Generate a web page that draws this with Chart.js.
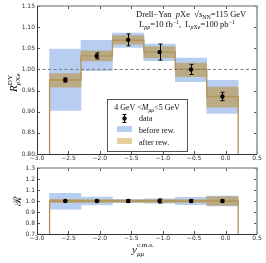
<!DOCTYPE html>
<html>
<head>
<meta charset="utf-8">
<script src="https://cdn.jsdelivr.net/npm/chart.js@4.4.1/dist/chart.umd.min.js"></script>
<style>
  html, body { margin: 0; padding: 0; background: #fff; }
  #wrap { position: relative; width: 266px; height: 263px; }
  canvas { position: absolute; left: 0; }
</style>
</head>
<body>
<div id="wrap">
  <canvas id="top" width="266" height="166" style="top:0"></canvas>
  <canvas id="bot" width="266" height="103" style="top:160px"></canvas>
</div>
<script>
// bins in y_mumu (c.m.s.)
const binEdges = [-2.8, -2.3, -1.8, -1.3, -0.8, -0.3, 0.2];
const binCenters = [-2.55, -2.05, -1.55, -1.05, -0.55, -0.05];
const xTicks = [-3.0, -2.5, -2.0, -1.5, -1.0, -0.5, 0.0, 0.5];

// upper panel: nuclear modification R_pXe
const dataR = [0.975, 1.032, 1.070, 1.041, 1.000, 0.936];
const dataErr = [0.005, 0.007, 0.014, 0.019, 0.012, 0.010];
const beforeLow = [0.903, 0.997, 1.052, 1.021, 0.971, 0.896];
const beforeHigh = [1.048, 1.069, 1.086, 1.060, 1.027, 0.974];
const afterLow = [0.958, 1.020, 1.060, 1.027, 0.983, 0.911];
const afterHigh = [0.990, 1.044, 1.080, 1.054, 1.015, 0.958];
const afterCentral = [0.975, 1.032, 1.069, 1.041, 1.000, 0.936];

// lower panel: ratio
const ratioData = [1.0, 1.0, 1.0, 1.0, 1.0, 1.0];
const ratioErr = [0.005, 0.007, 0.013, 0.018, 0.012, 0.011];
const ratioBeforeLow = [0.925, 0.965, 0.985, 0.980, 0.966, 0.955];
const ratioBeforeHigh = [1.070, 1.035, 1.015, 1.020, 1.034, 1.045];
const ratioAfterLow = [0.984, 0.988, 0.990, 0.986, 0.988, 0.960];
const ratioAfterHigh = [1.016, 1.012, 1.010, 1.014, 1.012, 1.040];
const ratioCentral = [1.0, 1.0, 1.0, 1.0, 1.0, 1.0];

const BLUE = '#b8cef1';
const GOLD = '#baab86';
const GOLD_LEG = '#e5cf9b';
const STEP = '#b39454';
const SERIF = '"Liberation Serif", "DejaVu Serif", serif';
const SANS = '"DejaVu Sans", sans-serif';

function fmtTick(v, d) {
  return v.toFixed(d).replace('-', '\u2212');
}

function stepPoints(centrals, floor) {
  const pts = [{ x: binEdges[0], y: floor }];
  centrals.forEach((c, i) => {
    pts.push({ x: binEdges[i], y: c });
    pts.push({ x: binEdges[i + 1], y: c });
  });
  pts.push({ x: binEdges[binEdges.length - 1], y: floor });
  return pts;
}

function bandData(lo, hi) {
  return binCenters.map((x, i) => ({ x: x, y: [lo[i], hi[i]] }));
}

// rich text: segments {t, it, sz, dy}
function richWidth(ctx, segs, base) {
  let w = 0;
  segs.forEach(s => {
    ctx.font = (s.it ? 'italic ' : '') + (base * (s.sz || 1)) + 'px ' + SERIF;
    if (!s.stack) w += ctx.measureText(s.t).width;
  });
  return w;
}
function drawRich(ctx, x, y, segs, base) {
  let cx = x;
  segs.forEach(s => {
    ctx.font = (s.it ? 'italic ' : '') + (base * (s.sz || 1)) + 'px ' + SERIF;
    ctx.fillText(s.t, cx, y + (s.dy || 0));
    if (!s.stack) cx += ctx.measureText(s.t).width;
  });
}

function decor(cfg) {
  return {
    id: 'decor',
    afterDatasetsDraw(chart) {
      const ctx = chart.ctx;
      const xs = chart.scales.x, ys = chart.scales.y;
      ctx.save();
      ctx.strokeStyle = '#000';
      ctx.lineWidth = 1;
      cfg.centers.forEach((c, i) => {
        const px = Math.round(xs.getPixelForValue(c)) + 0.5;
        const y1 = ys.getPixelForValue(cfg.vals[i] - cfg.errs[i]);
        const y2 = ys.getPixelForValue(cfg.vals[i] + cfg.errs[i]);
        ctx.beginPath();
        ctx.moveTo(px, y1); ctx.lineTo(px, y2);
        ctx.moveTo(px - 2, y1); ctx.lineTo(px + 2, y1);
        ctx.moveTo(px - 2, y2); ctx.lineTo(px + 2, y2);
        ctx.stroke();
      });
      ctx.restore();
    },
    afterDraw(chart) {
      const ctx = chart.ctx;
      const a = chart.chartArea;
      const xs = chart.scales.x, ys = chart.scales.y;
      ctx.save();
      // inward ticks
      ctx.strokeStyle = '#555';
      ctx.lineWidth = 1;
      ctx.beginPath();
      xs.ticks.forEach(t => {
        const px = Math.round(xs.getPixelForValue(t.value)) + 0.5;
        ctx.moveTo(px, a.bottom); ctx.lineTo(px, a.bottom - 3);
        ctx.moveTo(px, a.top); ctx.lineTo(px, a.top + 3);
      });
      ys.ticks.forEach(t => {
        const py = Math.round(ys.getPixelForValue(t.value)) + 0.5;
        ctx.moveTo(a.left, py); ctx.lineTo(a.left + 3, py);
        ctx.moveTo(a.right, py); ctx.lineTo(a.right - 3, py);
      });
      ctx.stroke();
      // spines
      ctx.strokeStyle = '#999';
      ctx.lineWidth = 1.6;
      ctx.beginPath();
      ctx.moveTo(a.left, a.top); ctx.lineTo(a.right, a.top); ctx.lineTo(a.right, a.bottom);
      ctx.stroke();
      ctx.strokeStyle = '#333';
      ctx.lineWidth = 1;
      ctx.beginPath();
      ctx.moveTo(a.left + 0.5, a.top); ctx.lineTo(a.left + 0.5, a.bottom + 0.5); ctx.lineTo(a.right, a.bottom + 0.5);
      ctx.stroke();
      ctx.fillStyle = '#111';
      ctx.textBaseline = 'alphabetic';
      cfg.text(ctx, a);
      ctx.restore();
    }
  };
}

function baseOptions(yMin, yMax, yStep, yDec, pad, xHeight) {
  return {
    responsive: false,
    animation: false,
    devicePixelRatio: 1,
    layout: { padding: pad },
    plugins: { legend: { display: false }, tooltip: { enabled: false } },
    scales: {
      x: {
        type: 'linear', min: -3.0, max: 0.5, offset: false,
        grid: { display: false, drawTicks: false, offset: false },
        border: { display: false },
        afterBuildTicks: s => { s.ticks = xTicks.map(v => ({ value: v })); },
        afterFit: s => { s.height = xHeight; },
        ticks: { padding: 1, color: '#333', font: { family: SANS, size: 6 }, maxRotation: 0,
                 callback: v => fmtTick(v, 1) }
      },
      y: {
        type: 'linear', min: yMin, max: yMax,
        grid: { display: false, drawTicks: false },
        border: { display: false },
        afterFit: s => { s.width = 37; },
        ticks: { stepSize: yStep, padding: 2, color: '#333', font: { family: SANS, size: 6 },
                 callback: v => fmtTick(v, yDec) }
      }
    }
  };
}

function datasets(lo, hi, alo, ahi, cen, vals, floor, dashed) {
  const ds = [
    { type: 'bar', data: bandData(lo, hi), backgroundColor: BLUE, borderWidth: 0,
      barPercentage: 1, categoryPercentage: 1, grouped: false, order: 6 },
    { type: 'bar', data: bandData(alo, ahi), backgroundColor: GOLD, borderWidth: 0,
      barPercentage: 1, categoryPercentage: 1, grouped: false, order: 5 },
    { type: 'line', data: stepPoints(cen, floor), borderColor: STEP, borderWidth: 1.3,
      pointRadius: 0, tension: 0, fill: false, order: 3 },
    { type: 'scatter', data: binCenters.map((x, i) => ({ x: x, y: vals[i] })),
      backgroundColor: '#000', borderColor: '#000', pointRadius: 2.2, borderWidth: 0, order: 1 }
  ];
  if (dashed) {
    ds.push({ type: 'line', data: [{ x: -3.0, y: 1.0 }, { x: 0.5, y: 1.0 }], borderColor: '#777',
      borderWidth: 1, borderDash: [3, 2.5], pointRadius: 0, fill: false, order: 2 });
  }
  return ds;
}

new Chart(document.getElementById('top'), {
  type: 'bar',
  data: { datasets: datasets(beforeLow, beforeHigh, afterLow, afterHigh, afterCentral, dataR, 0.8, true) },
  options: baseOptions(0.8, 1.15, 0.05, 2, { top: 6, right: 9, left: 0, bottom: 0 }, 12),
  plugins: [decor({
    centers: binCenters, vals: dataR, errs: dataErr,
    text(ctx, a) {
      const b = 8.5;
      const l1 = [{ t: 'Drell\u2212Yan  ' }, { t: 'p', it: 1 }, { t: 'Xe  \u221A' }, { t: 's', it: 1 },
                  { t: 'NN', sz: 0.7, dy: 2 }, { t: '=115 GeV' }];
      drawRich(ctx, 136, 17, l1, b);
      const l2 = [{ t: 'L' }, { t: 'pp', it: 1, sz: 0.7, dy: 2 }, { t: '=10 fb' }, { t: '\u22121', sz: 0.7, dy: -3.5 },
                  { t: ',  L' }, { t: 'p', it: 1, sz: 0.7, dy: 2 }, { t: 'Xe', sz: 0.7, dy: 2 }, { t: '=100 pb' },
                  { t: '\u22121', sz: 0.7, dy: -3.5 }];
      drawRich(ctx, 139, 27, l2, b);
      // legend
      ctx.fillStyle = '#fff';
      ctx.fillRect(107, 99, 80, 52);
      ctx.strokeStyle = '#555';
      ctx.lineWidth = 1;
      ctx.strokeRect(107.5, 99.5, 80, 52);
      ctx.fillStyle = '#111';
      const lt = [{ t: '4 GeV <' }, { t: 'M', it: 1 }, { t: '\u03BC\u03BC', it: 1, sz: 0.7, dy: 2 }, { t: '<5 GeV' }];
      drawRich(ctx, 147 - richWidth(ctx, lt, 8) / 2, 110, lt, 8);
      ctx.strokeStyle = '#000';
      ctx.beginPath();
      ctx.moveTo(124.5, 114); ctx.lineTo(124.5, 123);
      ctx.moveTo(122.5, 114.5); ctx.lineTo(126.5, 114.5);
      ctx.moveTo(122.5, 122.5); ctx.lineTo(126.5, 122.5);
      ctx.stroke();
      ctx.beginPath(); ctx.arc(124.5, 118.5, 2.2, 0, Math.PI * 2); ctx.fill();
      ctx.fillStyle = BLUE; ctx.fillRect(117, 126, 15, 6);
      ctx.fillStyle = GOLD_LEG; ctx.fillRect(117, 138, 15, 6);
      ctx.fillStyle = '#111';
      drawRich(ctx, 139, 121, [{ t: 'data' }], 8);
      drawRich(ctx, 139, 132.5, [{ t: 'before rew.' }], 8);
      drawRich(ctx, 139, 144.5, [{ t: 'after rew.' }], 8);
      // y title
      ctx.save();
      ctx.translate(17, 82);
      ctx.rotate(-Math.PI / 2);
      const yt = [{ t: 'R', it: 1 }, { t: 'DY', sz: 0.65, dy: -5, stack: 1 }, { t: 'p', it: 1, sz: 0.65, dy: 3 },
                  { t: 'Xe', sz: 0.65, dy: 3 }];
      drawRich(ctx, -10, 0, yt, 11);
      ctx.restore();
    }
  })]
});

new Chart(document.getElementById('bot'), {
  type: 'bar',
  data: { datasets: datasets(ratioBeforeLow, ratioBeforeHigh, ratioAfterLow, ratioAfterHigh, ratioCentral, ratioData, 0.7, false) },
  options: baseOptions(0.7, 1.3, 0.1, 1, { top: 8, right: 9, left: 0, bottom: 0 }, 29),
  plugins: [decor({
    centers: binCenters, vals: ratioData, errs: ratioErr,
    text(ctx, a) {
      ctx.save();
      ctx.translate(21, 41);
      ctx.rotate(-Math.PI / 2);
      ctx.font = '11px "DejaVu Serif", serif';
      ctx.textAlign = 'center';
      ctx.fillText('\u211B', 0, 0);
      ctx.restore();
      const xt = [{ t: 'y', it: 1 }, { t: 'c.m.s.', sz: 0.65, dy: -6, stack: 1 }, { t: '\u03BC\u03BC', it: 1, sz: 0.65, dy: 3 }];
      drawRich(ctx, 132, 93, xt, 11);
    }
  })]
});
</script>
</body>
</html>
